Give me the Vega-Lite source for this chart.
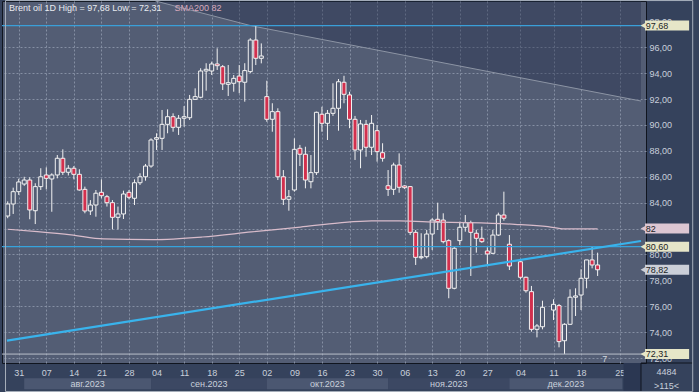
{
  "$schema": "https://vega.github.io/schema/vega-lite/v6.json",
  "width": 644,
  "height": 362,
  "autosize": {"type": "none"},
  "padding": {"left": 2, "top": 1, "right": 53, "bottom": 29},
  "background": "#35425c",
  "config": {
    "view": {"fill": "#535d74", "stroke": "#10151f", "strokeWidth": 1},
    "font": "Liberation Sans",
    "text": {"font": "Liberation Sans"},
    "axis": {"grid": false, "domain": false, "ticks": false, "labels": false}
  },
  "datasets": {
    "candles": [
      {"s":0,"o":82.97,"h":84.1,"l":82.8,"c":83.9},
      {"s":1,"o":83.9,"h":85.16,"l":83.13,"c":84.85},
      {"s":2,"o":84.85,"h":85.85,"l":84.6,"c":85.6},
      {"s":3,"o":85.44,"h":86.0,"l":85.3,"c":85.75},
      {"s":4,"o":85.75,"h":85.96,"l":82.72,"c":83.44},
      {"s":5,"o":83.38,"h":85.5,"l":82.35,"c":85.24},
      {"s":6,"o":85.24,"h":86.66,"l":84.98,"c":86.0},
      {"s":7,"o":86.14,"h":86.73,"l":85.03,"c":85.88},
      {"s":8,"o":85.83,"h":86.27,"l":83.3,"c":86.14},
      {"s":9,"o":86.14,"h":87.68,"l":85.88,"c":87.43},
      {"s":10,"o":87.43,"h":88.12,"l":86.14,"c":86.35},
      {"s":11,"o":86.35,"h":86.9,"l":86.1,"c":86.66},
      {"s":12,"o":86.66,"h":86.83,"l":85.8,"c":86.19},
      {"s":13,"o":86.19,"h":86.58,"l":84.93,"c":84.98},
      {"s":14,"o":85.03,"h":85.24,"l":83.18,"c":83.36},
      {"s":15,"o":83.36,"h":84.2,"l":83.05,"c":83.82},
      {"s":16,"o":83.82,"h":84.98,"l":82.92,"c":84.73},
      {"s":17,"o":84.8,"h":85.8,"l":84.34,"c":84.54},
      {"s":18,"o":84.46,"h":84.6,"l":83.7,"c":84.0},
      {"s":19,"o":84.0,"h":84.2,"l":81.94,"c":82.87},
      {"s":20,"o":82.87,"h":83.7,"l":81.94,"c":83.13},
      {"s":21,"o":83.13,"h":84.93,"l":82.74,"c":84.67},
      {"s":22,"o":84.8,"h":84.98,"l":84.26,"c":84.42},
      {"s":23,"o":84.34,"h":85.8,"l":83.82,"c":85.54},
      {"s":24,"o":85.54,"h":86.27,"l":85.37,"c":86.0},
      {"s":25,"o":86.0,"h":86.99,"l":85.7,"c":86.83},
      {"s":26,"o":86.83,"h":88.97,"l":86.7,"c":88.84},
      {"s":27,"o":88.9,"h":89.36,"l":88.07,"c":89.02},
      {"s":28,"o":88.97,"h":91.16,"l":88.07,"c":90.05},
      {"s":29,"o":90.05,"h":91.21,"l":89.36,"c":90.64},
      {"s":30,"o":90.64,"h":90.9,"l":89.48,"c":89.82},
      {"s":31,"o":89.82,"h":90.77,"l":89.23,"c":90.52},
      {"s":32,"o":90.52,"h":91.46,"l":89.87,"c":90.64},
      {"s":33,"o":90.56,"h":92.32,"l":90.39,"c":91.98},
      {"s":34,"o":91.98,"h":92.83,"l":91.93,"c":92.19},
      {"s":35,"o":92.14,"h":94.38,"l":92.06,"c":94.17},
      {"s":36,"o":94.17,"h":94.77,"l":92.65,"c":94.3},
      {"s":37,"o":94.17,"h":94.89,"l":93.86,"c":94.71},
      {"s":38,"o":94.71,"h":95.92,"l":94.25,"c":94.58},
      {"s":39,"o":94.5,"h":94.63,"l":92.7,"c":93.17},
      {"s":40,"o":93.14,"h":94.63,"l":92.24,"c":93.27},
      {"s":41,"o":93.22,"h":93.86,"l":92.57,"c":93.6},
      {"s":42,"o":93.78,"h":94.63,"l":92.45,"c":93.34},
      {"s":43,"o":93.3,"h":94.77,"l":91.8,"c":94.2},
      {"s":44,"o":94.12,"h":96.7,"l":94.0,"c":96.56},
      {"s":45,"o":96.56,"h":97.68,"l":94.63,"c":95.15},
      {"s":46,"o":95.15,"h":96.3,"l":94.76,"c":95.33},
      {"s":47,"o":92.19,"h":93.42,"l":90.25,"c":90.44},
      {"s":48,"o":90.44,"h":91.68,"l":89.48,"c":91.03},
      {"s":49,"o":91.03,"h":91.29,"l":85.75,"c":86.0},
      {"s":50,"o":86.0,"h":86.52,"l":83.82,"c":84.26},
      {"s":51,"o":84.26,"h":84.98,"l":83.38,"c":84.46},
      {"s":52,"o":84.98,"h":88.97,"l":84.85,"c":88.12},
      {"s":53,"o":88.2,"h":88.46,"l":86.83,"c":87.74},
      {"s":54,"o":87.74,"h":88.32,"l":85.11,"c":85.75},
      {"s":55,"o":85.62,"h":87.68,"l":85.11,"c":86.32},
      {"s":56,"o":86.32,"h":91.03,"l":86.14,"c":90.98},
      {"s":57,"o":90.83,"h":91.41,"l":89.48,"c":90.13},
      {"s":58,"o":90.13,"h":91.16,"l":88.84,"c":90.9},
      {"s":59,"o":90.9,"h":93.22,"l":90.7,"c":91.29},
      {"s":60,"o":91.29,"h":93.55,"l":89.56,"c":93.34},
      {"s":61,"o":93.3,"h":93.8,"l":91.68,"c":92.37},
      {"s":62,"o":92.32,"h":92.57,"l":89.75,"c":90.44},
      {"s":63,"o":90.44,"h":90.7,"l":87.3,"c":88.07},
      {"s":64,"o":88.07,"h":90.39,"l":86.66,"c":90.08},
      {"s":65,"o":90.05,"h":90.39,"l":87.55,"c":88.28},
      {"s":66,"o":88.28,"h":90.77,"l":87.68,"c":90.13},
      {"s":67,"o":89.56,"h":90.0,"l":87.17,"c":87.94},
      {"s":68,"o":87.86,"h":88.59,"l":87.17,"c":87.43},
      {"s":69,"o":85.31,"h":86.52,"l":84.52,"c":85.03},
      {"s":70,"o":85.03,"h":87.09,"l":84.6,"c":86.91},
      {"s":71,"o":86.91,"h":87.81,"l":84.77,"c":85.19},
      {"s":72,"o":85.29,"h":85.35,"l":85.05,"c":85.16},
      {"s":73,"o":85.24,"h":85.29,"l":81.5,"c":81.71},
      {"s":74,"o":81.71,"h":81.89,"l":79.19,"c":79.78},
      {"s":75,"o":79.75,"h":81.64,"l":79.63,"c":79.83},
      {"s":76,"o":79.83,"h":81.89,"l":79.7,"c":81.58},
      {"s":77,"o":81.58,"h":82.8,"l":80.35,"c":82.66},
      {"s":78,"o":82.72,"h":84.0,"l":81.9,"c":82.53},
      {"s":79,"o":82.66,"h":83.18,"l":80.86,"c":80.99},
      {"s":80,"o":81.07,"h":81.17,"l":76.62,"c":77.39},
      {"s":81,"o":77.39,"h":80.6,"l":77.31,"c":80.48},
      {"s":82,"o":81.07,"h":82.53,"l":80.73,"c":82.1},
      {"s":83,"o":82.1,"h":83.05,"l":81.76,"c":82.46},
      {"s":84,"o":82.46,"h":82.61,"l":78.34,"c":81.71},
      {"s":85,"o":81.64,"h":81.9,"l":80.14,"c":81.25},
      {"s":86,"o":81.25,"h":82.15,"l":80.9,"c":80.99},
      {"s":87,"o":80.27,"h":80.56,"l":79.24,"c":80.04},
      {"s":88,"o":80.09,"h":81.89,"l":80.04,"c":81.5},
      {"s":89,"o":81.5,"h":83.23,"l":81.43,"c":83.05},
      {"s":90,"o":83.05,"h":84.85,"l":82.61,"c":82.8},
      {"s":91,"o":80.79,"h":81.5,"l":78.8,"c":79.11},
      {"s":93,"o":79.44,"h":79.63,"l":78.08,"c":78.24},
      {"s":94,"o":78.24,"h":78.29,"l":77.05,"c":77.2},
      {"s":95,"o":77.13,"h":77.57,"l":74.04,"c":74.22},
      {"s":96,"o":74.22,"h":74.63,"l":73.6,"c":74.48},
      {"s":97,"o":74.42,"h":76.43,"l":74.22,"c":75.92},
      {"s":99,"o":75.71,"h":76.54,"l":74.94,"c":76.15},
      {"s":100,"o":76.05,"h":76.18,"l":72.83,"c":73.27},
      {"s":101,"o":73.34,"h":74.69,"l":72.31,"c":74.61},
      {"s":102,"o":74.61,"h":77.31,"l":74.56,"c":76.7},
      {"s":103,"o":76.7,"h":77.39,"l":75.25,"c":76.8},
      {"s":104,"o":76.87,"h":78.86,"l":75.71,"c":78.16},
      {"s":105,"o":78.16,"h":79.58,"l":77.39,"c":79.58},
      {"s":106,"o":79.58,"h":80.6,"l":78.93,"c":79.19},
      {"s":107,"o":79.19,"h":80.14,"l":78.34,"c":78.82}
    ],
    "sma": [
      {"s":0,"v":81.95},{"s":5.4,"v":81.76},{"s":11.5,"v":81.51},{"s":17.4,"v":81.2},
      {"s":26.3,"v":81.15},{"s":35.3,"v":81.35},{"s":44.2,"v":81.74},{"s":53.1,"v":82.12},
      {"s":60.2,"v":82.44},{"s":66,"v":82.59},{"s":71,"v":82.59},{"s":78,"v":82.5},
      {"s":83,"v":82.46},{"s":92,"v":82.33},{"s":98,"v":82.15},{"s":101,"v":81.97},{"s":107,"v":81.97}
    ],
    "trend": [{"s":-0.125,"v":73.35},{"s":114.87,"v":81.04}],
    "resist": [{"s":26.8,"v":99.575},{"s":44.2,"v":97.66},{"s":114.87,"v":91.85}],
    "months": [
      {"m":"авг.2023","a":3,"b":26},
      {"m":"сен.2023","a":26,"b":47},
      {"m":"окт.2023","a":47,"b":69},
      {"m":"ноя.2023","a":69,"b":91},
      {"m":"дек.2023","a":91,"b":111.5}
    ],
    "tags": [
      {"v":97.68,"t":"97,68","k":"range"},
      {"v":82,"t":"82","k":"sma"},
      {"v":80.6,"t":"80,60","k":"level"},
      {"v":78.82,"t":"78,82","k":"last"},
      {"v":72.31,"t":"72,31","k":"range"}
    ],
    "one": [{}]
  },
  "layer": [
    {
      "data": {"name": "resist"},
      "mark": {"type": "area", "color": "#1f2a48", "opacity": 0.38},
      "encoding": {
        "x": {"field": "s", "type": "quantitative", "title": null,
          "scale": {"domain": [-0.125, 114.87], "nice": false, "zero": false},
          "axis": {"orient": "bottom", "title": null, "tickCount": 500,
            "values": [2,7,12,17,22,27,32,37,42,47,52,57,62,67,72,77,82,87,93,99,104,111],
            "labelExpr": "['31','07','14','21','28','04','11','18','25','02','09','16','23','30','06','13','20','27','04','11','18','25'][indexof([2,7,12,17,22,27,32,37,42,47,52,57,62,67,72,77,82,87,93,99,104,111], datum.value)]",
            "grid": true, "gridColor": "#858fa3", "gridDash": [2,2], "gridWidth": 1,
            "labels": true, "domain": false, "ticks": false, "labelFontSize": 9, "labelColor": "#c9d0db",
            "labelPadding": 5, "labelBaseline": "top", "labelOverlap": false, "labelFlush": false}},
        "y": {"field": "v", "type": "quantitative", "title": null,
          "scale": {"domain": [71.62, 99.575], "nice": false, "zero": false},
          "axis": {"orient": "right", "title": null, "tickCount": 500,
            "values": [72,74,76,78,80,82,84,86,88,90,92,94,96,98],
            "labelExpr": "datum.value == 82 ? '' : replace(format(datum.value, '.2f'), '.', ',')",
            "grid": true, "gridColor": "#858fa3", "gridDash": [2,2], "gridWidth": 1,
            "gridOpacity": {"condition": {"test": "datum.value > 97", "value": 0}, "value": 1},
            "labels": true, "domain": false, "ticks": false, "labelFontSize": 9, "labelColor": "#c9d0db",
            "labelPadding": 3, "labelOverlap": false, "labelFlush": false}},
        "y2": {"datum": 99.575}
      }
    },
    {
      "data": {"name": "resist"},
      "mark": {"type": "line", "color": "#8c94a4", "strokeWidth": 1},
      "encoding": {
        "x": {"field": "s", "type": "quantitative", "title": null},
        "y": {"field": "v", "type": "quantitative", "title": null}
      }
    },
    {
      "data": {"name": "candles"},
      "mark": {"type": "rule", "color": "#f2f2f2", "strokeWidth": 1, "clip": true},
      "encoding": {
        "x": {"field": "s", "type": "quantitative", "title": null},
        "y": {"field": "l", "type": "quantitative", "title": null},
        "y2": {"field": "h"}
      }
    },
    {
      "data": {"name": "candles"},
      "mark": {"type": "bar", "width": 4, "stroke": "#f2f2f2", "strokeWidth": 1, "clip": true},
      "encoding": {
        "x": {"field": "s", "type": "quantitative", "title": null},
        "y": {"field": "o", "type": "quantitative", "title": null},
        "y2": {"field": "c"},
        "fill": {"condition": {"test": "datum.c < datum.o", "value": "#d2304e"}, "value": "#535d74"}
      }
    },
    {
      "data": {"name": "sma"},
      "mark": {"type": "line", "color": "#d9bccb", "strokeWidth": 1.2, "interpolate": "monotone"},
      "encoding": {
        "x": {"field": "s", "type": "quantitative", "title": null},
        "y": {"field": "v", "type": "quantitative", "title": null}
      }
    },
    {
      "data": {"name": "one"},
      "mark": {"type": "rule", "color": "#3a9fd8", "strokeWidth": 1.3},
      "encoding": {"y": {"datum": 97.68, "title": null}}
    },
    {
      "data": {"name": "one"},
      "mark": {"type": "rule", "color": "#36a3dc", "strokeWidth": 1.3},
      "encoding": {"y": {"datum": 80.6, "title": null}}
    },
    {
      "data": {"name": "one"},
      "mark": {"type": "rule", "color": "#b9bfca", "strokeWidth": 1},
      "encoding": {"y": {"datum": 72.31, "title": null}}
    },
    {
      "data": {"name": "trend"},
      "mark": {"type": "line", "color": "#39b3ec", "strokeWidth": 2.2},
      "encoding": {
        "x": {"field": "s", "type": "quantitative", "title": null},
        "y": {"field": "v", "type": "quantitative", "title": null}
      }
    },
    {
      "data": {"name": "one"},
      "mark": {"type": "text", "align": "left", "baseline": "middle", "fontSize": 9, "color": "#e8ebf0", "text": "Brent oil 1D High = 97,68 Low = 72,31"},
      "encoding": {"x": {"datum": 0.23, "title": null}, "y": {"datum": 99.01, "title": null}}
    },
    {
      "data": {"name": "one"},
      "mark": {"type": "text", "align": "left", "baseline": "middle", "fontSize": 9, "color": "#d8a9bd", "text": "SMA200 82"},
      "encoding": {"x": {"datum": 30.25, "title": null}, "y": {"datum": 99.01, "title": null}}
    },
    {
      "data": {"name": "one"},
      "mark": {"type": "text", "align": "center", "baseline": "middle", "fontSize": 9, "color": "#d0d6de", "text": "7"},
      "encoding": {"x": {"datum": 108.3, "title": null}, "y": {"datum": 71.93, "title": null}}
    },
    {
      "data": {"name": "months"},
      "mark": {"type": "rect", "clip": false},
      "encoding": {
        "x": {"field": "a", "type": "quantitative", "title": null},
        "x2": {"field": "b"},
        "y": {"datum": 70.44, "title": null},
        "y2": {"datum": 69.59},
        "fill": {"condition": {"test": "indexof(['авг.2023','окт.2023','дек.2023'], datum.m) >= 0", "value": "#4b5771"}, "value": "#3c4863"}
      }
    },
    {
      "data": {"name": "months"},
      "transform": [{"calculate": "(datum.a + datum.b) / 2", "as": "mid"}],
      "mark": {"type": "text", "align": "center", "baseline": "middle", "fontSize": 9, "color": "#c9d0db", "clip": false},
      "encoding": {
        "x": {"field": "mid", "type": "quantitative", "title": null},
        "y": {"datum": 70.02, "title": null},
        "text": {"field": "m"}
      }
    },
    {
      "data": {"name": "one"},
      "mark": {"type": "rect", "color": "#2b3752", "clip": false},
      "encoding": {
        "x": {"datum": 111.7, "title": null}, "x2": {"datum": 114.87},
        "y": {"datum": 71.62, "title": null}, "y2": {"datum": 69.38}
      }
    },
    {
      "data": {"name": "one"},
      "mark": {"type": "rule", "color": "#10151f", "strokeWidth": 1, "clip": false},
      "encoding": {
        "x": {"datum": 114.87, "title": null},
        "y": {"datum": 71.62, "title": null}, "y2": {"datum": 69.38}
      }
    },
    {
      "data": {"name": "one"},
      "mark": {"type": "rule", "color": "#10151f", "strokeWidth": 1, "clip": false},
      "encoding": {
        "x": {"datum": 114.87, "title": null}, "x2": {"datum": 124.3},
        "y": {"datum": 71.62, "title": null}
      }
    },
    {
      "data": {"name": "one"},
      "mark": {"type": "text", "align": "center", "baseline": "middle", "fontSize": 9, "color": "#c9d0db", "text": "4484"},
      "encoding": {"x": {"datum": 119.5, "title": null}, "y": {"datum": 70.95, "title": null}}
    },
    {
      "data": {"name": "one"},
      "mark": {"type": "text", "align": "center", "baseline": "middle", "fontSize": 9, "color": "#c9d0db", "text": ">115<"},
      "encoding": {"x": {"datum": 119.5, "title": null}, "y": {"datum": 69.85, "title": null}}
    },
    {
      "data": {"name": "tags"},
      "mark": {"type": "rect", "clip": false, "yOffset": -5, "y2Offset": 5},
      "encoding": {
        "x": {"datum": 115.6, "title": null}, "x2": {"datum": 123.6},
        "y": {"field": "v", "type": "quantitative", "title": null}, "y2": {"field": "v"},
        "fill": {"field": "k", "type": "nominal", "legend": null,
          "scale": {"domain": ["range","sma","level","last"], "range": ["#e6e6c8","#dcc6d2","#e6e6c8","#cbcfd8"]}}
      }
    },
    {
      "data": {"name": "tags"},
      "mark": {"type": "point", "shape": "triangle-left", "filled": true, "opacity": 1, "size": 40, "clip": false},
      "encoding": {
        "x": {"datum": 115.3, "title": null},
        "y": {"field": "v", "type": "quantitative", "title": null},
        "color": {"field": "k", "type": "nominal", "legend": null,
          "scale": {"domain": ["range","sma","level","last"], "range": ["#e6e6c8","#dcc6d2","#e6e6c8","#cbcfd8"]}}
      }
    },
    {
      "data": {"name": "tags"},
      "mark": {"type": "text", "align": "left", "baseline": "middle", "fontSize": 9, "color": "#1c1f26", "clip": false},
      "encoding": {
        "x": {"datum": 115.75, "title": null},
        "y": {"field": "v", "type": "quantitative", "title": null},
        "text": {"field": "t"}
      }
    },
    {
      "data": {"name": "one"},
      "mark": {"type": "rect", "filled": false, "stroke": "#a7afbb", "strokeWidth": 1, "clip": false},
      "encoding": {
        "x": {"datum": -0.393, "title": null}, "x2": {"datum": 124.25},
        "y": {"datum": 99.61, "title": null}, "y2": {"datum": 69.42}
      }
    }
  ]
}
